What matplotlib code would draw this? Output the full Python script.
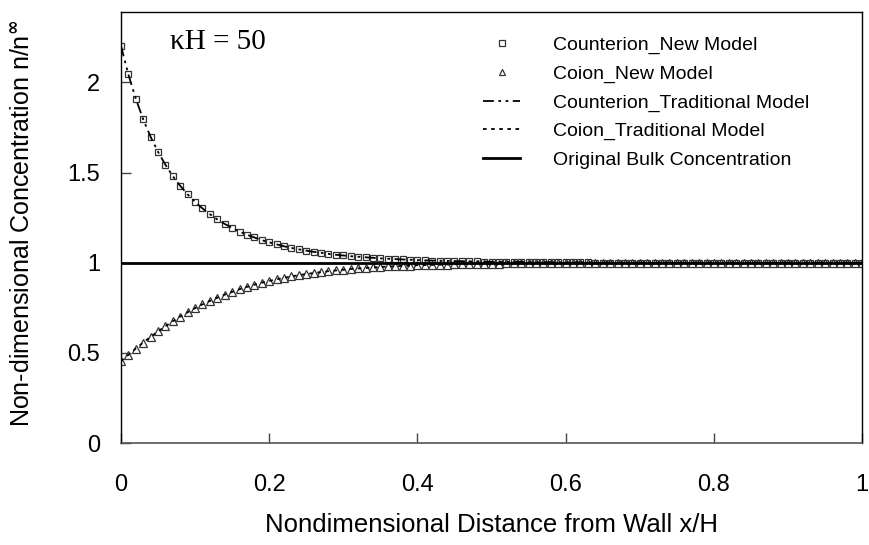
import matplotlib
matplotlib.use("Agg")
import matplotlib.pyplot as plt

# wall distance x/H, sampled every 0.01
x = [i / 100 for i in range(101)]

counter_new = [2.203, 2.044, 1.910, 1.795, 1.698, 1.615, 1.543, 1.480, 1.426, 1.379,
               1.337, 1.301, 1.269, 1.240, 1.215, 1.193, 1.173, 1.155, 1.140, 1.125,
               1.113, 1.102, 1.091, 1.082, 1.074, 1.067, 1.060, 1.055, 1.049, 1.044,
               1.040, 1.036, 1.033, 1.030, 1.027, 1.024, 1.022, 1.020, 1.018, 1.016,
               1.015, 1.013, 1.012, 1.011, 1.010, 1.009, 1.008, 1.007, 1.007, 1.006,
               1.005, 1.005, 1.004, 1.004, 1.004, 1.003, 1.003, 1.003, 1.003, 1.002,
               1.002, 1.002, 1.002, 1.002, 1.001, 1.001, 1.001, 1.001, 1.001, 1.001,
               1.001, 1.001, 1.001, 1.000, 1.000, 1.000, 1.000, 1.000, 1.000, 1.000,
               1.000, 1.000, 1.000, 1.000, 1.000, 1.000, 1.000, 1.000, 1.000, 1.000,
               1.000, 1.000, 1.000, 1.000, 1.000, 1.000, 1.000, 1.000, 1.000, 1.000,
               1.000]

coion_new = [0.454, 0.489, 0.524, 0.557, 0.589, 0.619, 0.648, 0.675, 0.701, 0.725,
             0.748, 0.769, 0.788, 0.806, 0.823, 0.838, 0.853, 0.866, 0.878, 0.889,
             0.899, 0.908, 0.916, 0.924, 0.931, 0.937, 0.943, 0.948, 0.953, 0.957,
             0.961, 0.965, 0.968, 0.971, 0.974, 0.976, 0.979, 0.981, 0.982, 0.984,
             0.986, 0.987, 0.988, 0.989, 0.990, 0.991, 0.992, 0.993, 0.994, 0.994,
             0.995, 0.995, 0.996, 0.996, 0.996, 0.997, 0.997, 0.997, 0.997, 0.998,
             0.998, 0.998, 0.998, 0.998, 0.999, 0.999, 0.999, 0.999, 0.999, 0.999,
             0.999, 0.999, 0.999, 1.000, 1.000, 1.000, 1.000, 1.000, 1.000, 1.000,
             1.000, 1.000, 1.000, 1.000, 1.000, 1.000, 1.000, 1.000, 1.000, 1.000,
             1.000, 1.000, 1.000, 1.000, 1.000, 1.000, 1.000, 1.000, 1.000, 1.000,
             1.000]

# the traditional model gives the same profiles at this kappa*H
counter_trad = counter_new
coion_trad = coion_new

bulk_x = [0, 1]
bulk_y = [1, 1]

xticks = [0, 0.2, 0.4, 0.6, 0.8, 1]
xticklabels = ["0", "0.2", "0.4", "0.6", "0.8", "1"]
yticks = [0, 0.5, 1, 1.5, 2]
yticklabels = ["0", "0.5", "1", "1.5", "2"]

plt.rcParams['font.family'] = ['Liberation Sans', 'DejaVu Sans']

fig = plt.figure(figsize=(8.7, 5.45), dpi=100)
ax = fig.add_axes([0.139, 0.187, 0.852, 0.791])

ax.plot(x, counter_new, linestyle='none', marker='s', markersize=5,
        markerfacecolor='white', markeredgecolor='#333333', markeredgewidth=0.9,
        label='Counterion_New Model')
ax.plot(x, coion_new, linestyle='none', marker='^', markersize=5.5,
        markerfacecolor='white', markeredgecolor='#333333', markeredgewidth=0.9,
        label='Coion_New Model')
ax.plot(x, counter_trad, color='black', linewidth=1.3,
        linestyle=(0, (6, 2.5, 1.5, 2.5, 1.5, 2.5)),
        label='Counterion_Traditional Model')
ax.plot(x, coion_trad, color='black', linewidth=1.3, linestyle=(0, (2, 2.5)),
        label='Coion_Traditional Model')
ax.plot(bulk_x, bulk_y, color='black', linewidth=2,
        label='Original Bulk Concentration')

ax.set_xlim(0, 1)
ax.set_ylim(0, 2.39)
ax.set_xticks(xticks)
ax.set_xticklabels(xticklabels)
ax.set_yticks(yticks)
ax.set_yticklabels(yticklabels)
ax.tick_params(direction='in', length=7, width=1, labelsize=17, colors='#444444',
               labelcolor='black')
ax.tick_params(axis='x', pad=22)
ax.tick_params(axis='y', pad=15)

for side in ['top', 'right', 'left']:
    ax.spines[side].set_color('black')
    ax.spines[side].set_linewidth(1)
ax.spines['bottom'].set_color('#555555')
ax.spines['bottom'].set_linewidth(1.2)

ax.set_xlabel('Nondimensional Distance from Wall x/H', fontsize=18.5, va='center')
ax.xaxis.set_label_coords(0.5, -0.19)
ax.set_ylabel(r'Non-dimensional Concentration n/n$^{\mathbf{\infty}}$', fontsize=18)
ax.yaxis.set_label_coords(-0.117, 0.51)

ax.text(0.066, 0.915, 'κH = 50', transform=ax.transAxes, fontsize=21,
        family='Liberation Serif', va='baseline')

leg = ax.legend(loc='upper left', bbox_to_anchor=(0.465, 0.985), frameon=False,
                fontsize=14, handlelength=1.9, handletextpad=1.7,
                labelspacing=0.57, markerscale=0.8)

fig.savefig('out.png', dpi=100)
